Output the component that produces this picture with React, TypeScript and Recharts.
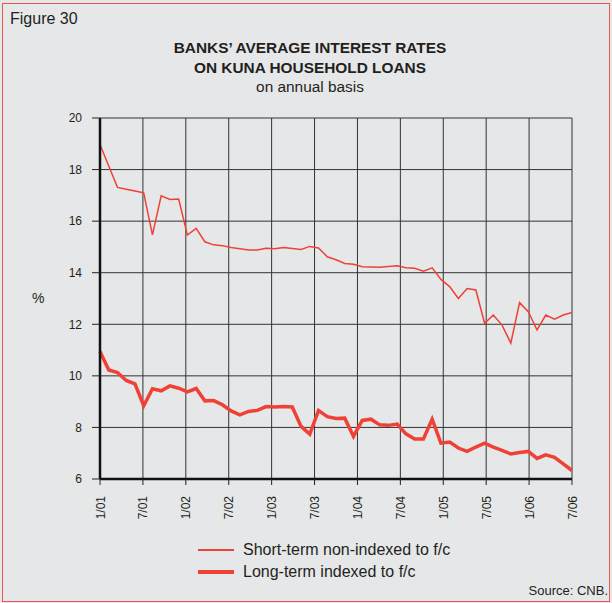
import { LineChart, Line, XAxis, YAxis, CartesianGrid } from "recharts";

// x-axis labels, placed evenly from the first to the last observation
const tickLabels = [
  "1/01", "7/01", "1/02", "7/02", "1/03", "7/03",
  "1/04", "7/04", "1/05", "7/05", "1/06", "7/06",
];

// Short-term loans not indexed to foreign currency (%)
const shortTerm = [
  18.97, 18.14, 17.31, 17.24, 17.17, 17.1, 15.47, 16.98, 16.84, 16.86,
  15.46, 15.72, 15.2, 15.08, 15.05, 14.98, 14.93, 14.88, 14.88, 14.95,
  14.93, 14.98, 14.94, 14.9, 15.02, 14.96, 14.62, 14.5, 14.36, 14.33,
  14.23, 14.22, 14.21, 14.24, 14.27, 14.19, 14.17, 14.06, 14.19, 13.74,
  13.46, 13.0, 13.39, 13.33, 12.04, 12.36, 11.97, 11.27, 12.84, 12.49,
  11.78, 12.36, 12.2, 12.36, 12.46,
];

// Long-term loans indexed to foreign currency (%)
const longTerm = [
  10.94, 10.23, 10.13, 9.82, 9.69, 8.84, 9.5, 9.42, 9.61, 9.52,
  9.38, 9.51, 9.03, 9.04, 8.88, 8.64, 8.49, 8.62, 8.66, 8.81,
  8.79, 8.81, 8.79, 8.04, 7.74, 8.66, 8.42, 8.35, 8.36, 7.65,
  8.27, 8.32, 8.1, 8.08, 8.13, 7.75, 7.55, 7.55, 8.32, 7.39,
  7.43, 7.2, 7.07, 7.24, 7.39, 7.24, 7.11, 6.97, 7.03, 7.07,
  6.8, 6.94, 6.84, 6.59, 6.33,
];

const yTicks = [6, 8, 10, 12, 14, 16, 18, 20];

const RED = "#ef4136";
const INK = "#231f20";
const FONT = "'Liberation Sans', Arial, Helvetica, sans-serif";

const data = shortTerm.map((v, i) => ({ idx: i, short: v, long: longTerm[i] }));
const lastIdx = data.length - 1;
const xTicks = tickLabels.map((_, k) => (k * lastIdx) / (tickLabels.length - 1));

function XTick({ x, y, index }: any) {
  const ax = x + 4.5;
  const ay = y + 9;
  return (
    <text
      x={ax}
      y={ay}
      transform={`rotate(-90, ${ax}, ${ay})`}
      textAnchor="end"
      fontSize={12}
      fontFamily={FONT}
      fill={INK}
    >
      {tickLabels[index]}
    </text>
  );
}

export default function App() {
  return (
    <div
      style={{
        position: "relative",
        width: 612,
        height: 603,
        background: "#e6e7e8",
        fontFamily: FONT,
        color: INK,
        overflow: "hidden",
      }}
    >
      <style>{"body{margin:0}"}</style>
      <div
        style={{
          position: "absolute",
          left: 2,
          top: 3,
          width: 606,
          height: 597,
          border: "1px solid #e8564e",
        }}
      />
      <div style={{ position: "absolute", left: 10, top: 10, fontSize: 16 }}>Figure 30</div>
      <div
        style={{
          position: "absolute",
          left: 0,
          width: 620,
          top: 38,
          textAlign: "center",
          fontSize: 15.4,
          lineHeight: "19.5px",
        }}
      >
        <div style={{ fontWeight: "bold" }}>BANKS’ AVERAGE INTEREST RATES</div>
        <div style={{ fontWeight: "bold" }}>ON KUNA HOUSEHOLD LOANS</div>
        <div>on annual basis</div>
      </div>
      <div style={{ position: "absolute", left: 32, top: 290, fontSize: 14 }}>%</div>

      <div style={{ position: "absolute", left: 0, top: 0 }}>
        <LineChart
          width={612}
          height={603}
          data={data}
          margin={{ top: 118, right: 40, left: 40, bottom: 64 }}
        >
          <CartesianGrid stroke="#333" strokeWidth={1} />
          <XAxis
            dataKey="idx"
            type="number"
            domain={[0, lastIdx]}
            ticks={xTicks}
            interval={0}
            height={60}
            tickSize={6}
            tickMargin={2}
            axisLine={{ stroke: "#111", strokeWidth: 2.5 }}
            tickLine={{ stroke: "#222" }}
            tick={<XTick />}
          />
          <YAxis
            domain={[6, 20]}
            ticks={yTicks}
            width={60}
            tickSize={8}
            tickMargin={10}
            axisLine={{ stroke: "#111", strokeWidth: 2.5 }}
            tickLine={{ stroke: "#222" }}
            tick={{ fontSize: 12, fill: INK, fontFamily: FONT }}
          />
          <Line
            dataKey="short"
            stroke={RED}
            strokeWidth={1.5}
            dot={false}
            isAnimationActive={false}
          />
          <Line
            dataKey="long"
            stroke={RED}
            strokeWidth={3.5}
            dot={false}
            isAnimationActive={false}
          />
        </LineChart>
      </div>

      <div style={{ position: "absolute", left: 198, top: 539, fontSize: 16, lineHeight: "22px" }}>
        <div style={{ display: "flex", alignItems: "center" }}>
          <span style={{ display: "inline-block", width: 36, height: 1.5, background: RED, marginRight: 9 }} />
          Short-term non-indexed to f/c
        </div>
        <div style={{ display: "flex", alignItems: "center" }}>
          <span style={{ display: "inline-block", width: 36, height: 3.5, background: RED, marginRight: 9 }} />
          Long-term indexed to f/c
        </div>
      </div>
      <div style={{ position: "absolute", right: 4, top: 583, fontSize: 13 }}>Source: CNB.</div>
    </div>
  );
}
